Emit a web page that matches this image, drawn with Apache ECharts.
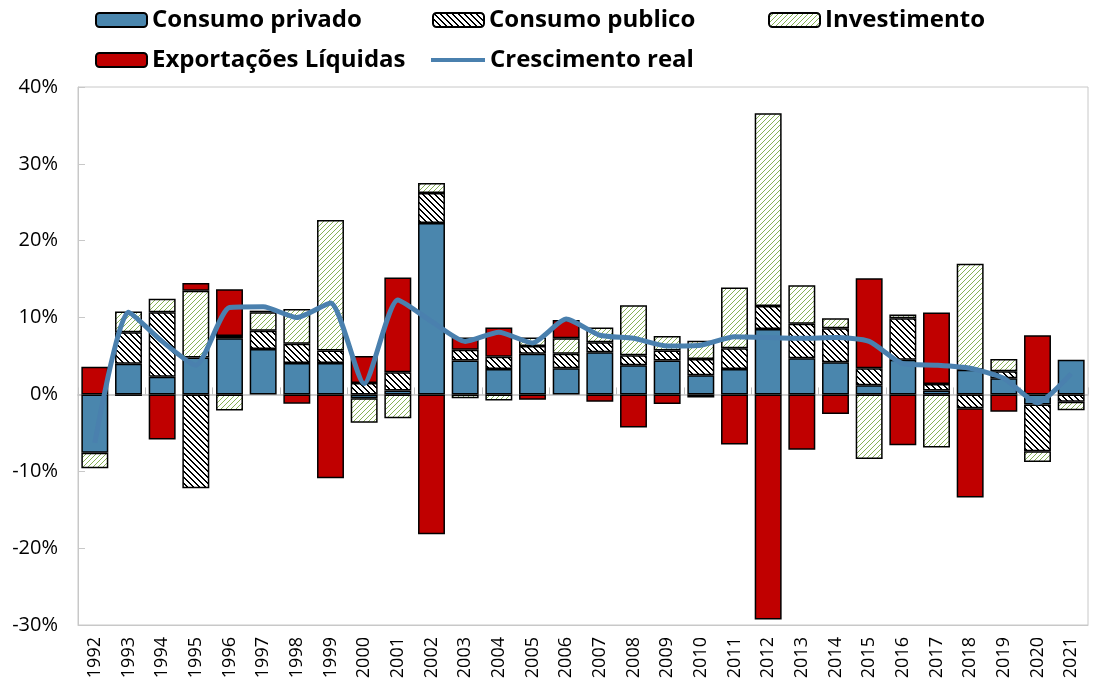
<!DOCTYPE html>
<html>
<head>
<meta charset="utf-8">
<script src="https://cdn.jsdelivr.net/npm/echarts@6/dist/echarts.min.js"></script>
<style>html,body{margin:0;padding:0;background:#fff}#c{width:1101px;height:700px}</style>
</head>
<body>
<div id="c"></div>
<script>
const years = ['1992','1993','1994','1995','1996','1997','1998','1999','2000','2001','2002','2003','2004','2005','2006','2007','2008','2009','2010','2011','2012','2013','2014','2015','2016','2017','2018','2019','2020','2021'];
const consumoPrivado = [-7.6, 4.0, 2.3, 4.8, 7.3, 5.9, 4.1, 4.1, -0.5, 0.5, 22.3, 4.4, 3.3, 5.3, 3.4, 5.5, 3.8, 4.4, 2.5, 3.3, 8.5, 4.7, 4.2, 1.2, 4.5, 0.5, 3.2, 2.1, -1.3, 4.5];
const consumoPublico = [null, 4.1, 8.4, -12.2, 0.3, 2.4, 2.5, 1.6, 1.5, 2.4, 3.9, 1.4, 1.6, 1.0, 1.9, 1.3, 1.3, 1.3, 2.1, 2.7, 3.0, 4.5, 4.4, 2.2, 5.4, 0.85, -1.8, 0.9, -6.1, -0.95];
const investimento = [-2.0, 2.7, 1.75, 8.7, -2.1, 2.4, 4.5, 17.0, -3.2, -3.1, 1.3, -0.5, -0.8, 1.1, 2.0, 1.9, 6.5, 1.9, 2.4, 7.9, 25.1, 5.0, 1.3, -8.4, 0.5, -6.9, 13.8, 1.6, -1.4, -1.1];
const exportacoes = [3.6, -0.2, -5.85, 1.0, 6.1, 0.2, -1.2, -10.9, 3.5, 12.3, -18.2, 1.6, 3.8, -0.7, 2.4, -0.95, -4.3, -1.25, -0.4, -6.5, -29.3, -7.2, -2.55, 11.7, -6.6, 9.3, -11.6, -2.25, 7.7, null];
const crescimento = [-6.3, 10.7, 6.9, 3.8, 11.3, 11.4, 10.0, 11.9, 1.4, 12.3, 9.5, 6.9, 8.1, 6.7, 9.8, 7.7, 7.3, 6.3, 6.4, 7.5, 7.4, 7.3, 7.4, 6.9, 4.0, 3.8, 3.4, 2.1, -1.1, 2.7];
const yTicks = {min: -30, max: 40, interval: 10};

function hatch(color, dir, n, w, bg) {
  const c = document.createElement('canvas');
  c.width = n; c.height = n;
  const g = c.getContext('2d');
  g.fillStyle = bg; g.fillRect(0, 0, n, n);
  g.fillStyle = color;
  for (let i = 0; i < n; i++) {
    for (let k = 0; k < w; k++) {
      const x = dir > 0 ? (i + k) % n : (n - 1 - i + k) % n;
      g.fillRect(x, i, 1, 1);
    }
  }
  return {image: c, repeat: 'repeat'};
}
const pubPattern = hatch('#000000', 1, 6, 2, '#ffffff');
const invPattern = hatch('#86b256', -1, 5, 1, '#ffffff');

const FONT = '"Open Sans", "Noto Sans", sans-serif';
const LT = {fontFamily: FONT, fontWeight: 'bold', fontSize: 24, lineHeight: 28, color: '#000'};
function lg(name, left, top, extra) {
  return Object.assign({data: [name], left: left, top: top, padding: 0, itemWidth: 51, itemHeight: 14, itemGap: 0,
    textStyle: LT, selectedMode: false}, extra || {});
}
const chart = echarts.init(document.getElementById('c'), null, {renderer: 'canvas'});
const barBase = {type: 'bar', stack: 'total', barWidth: '80%'};
chart.setOption({
  animation: false,
  backgroundColor: '#fff',
  legend: [
    lg('Consumo privado', 95, 6),
    lg('Consumo publico', 432, 6),
    lg('Investimento', 768, 6),
    lg('Exportações Líquidas', 95, 46),
    lg('Crescimento real', 431, 46, {itemWidth: 54, itemHeight: 4, icon: 'rect'})
  ],
  grid: {left: 78, right: 13, top: 87, bottom: 75, show: true, borderColor: '#C8C8C8', borderWidth: 1},
  xAxis: [
    {type: 'category', data: years, position: 'bottom', axisLine: {onZero: false, lineStyle: {color: '#C8C8C8'}},
     axisTick: {show: false}, axisLabel: {rotate: 90, fontFamily: FONT, fontSize: 18, color: '#000', margin: 12}},
    {type: 'category', data: years, position: 'top', axisLine: {onZero: true, lineStyle: {color: '#BFBFBF', width: 1.5}},
     axisTick: {show: true, length: 7, lineStyle: {color: '#BFBFBF'}}, axisLabel: {show: false}}
  ],
  yAxis: {type: 'value', min: yTicks.min, max: yTicks.max, interval: yTicks.interval,
    axisLine: {show: true, lineStyle: {color: '#C8C8C8'}}, axisTick: {show: true, inside: true, length: 7, lineStyle: {color: '#C8C8C8'}},
    splitLine: {show: false},
    axisLabel: {formatter: '{value}%', fontFamily: FONT, fontSize: 20, color: '#000', margin: 20}},
  series: [
    Object.assign({}, barBase, {name: 'Consumo privado', data: consumoPrivado, itemStyle: {color: '#4A86AD', borderColor: '#000', borderWidth: 1.5}}),
    Object.assign({}, barBase, {name: 'Consumo publico', data: consumoPublico, itemStyle: {color: pubPattern, borderColor: '#000', borderWidth: 1.5}}),
    Object.assign({}, barBase, {name: 'Investimento', data: investimento, itemStyle: {color: invPattern, borderColor: '#000', borderWidth: 1.5}}),
    Object.assign({}, barBase, {name: 'Exportações Líquidas', data: exportacoes, itemStyle: {color: '#C00000', borderColor: '#000', borderWidth: 1.5}}),
    {name: 'Crescimento real', type: 'line', data: crescimento, smooth: 0.2, symbol: 'none', z: 5,
     lineStyle: {color: '#4A80AE', width: 5}, itemStyle: {color: '#4A80AE', borderWidth: 0}}
  ]
});
</script>
</body>
</html>
